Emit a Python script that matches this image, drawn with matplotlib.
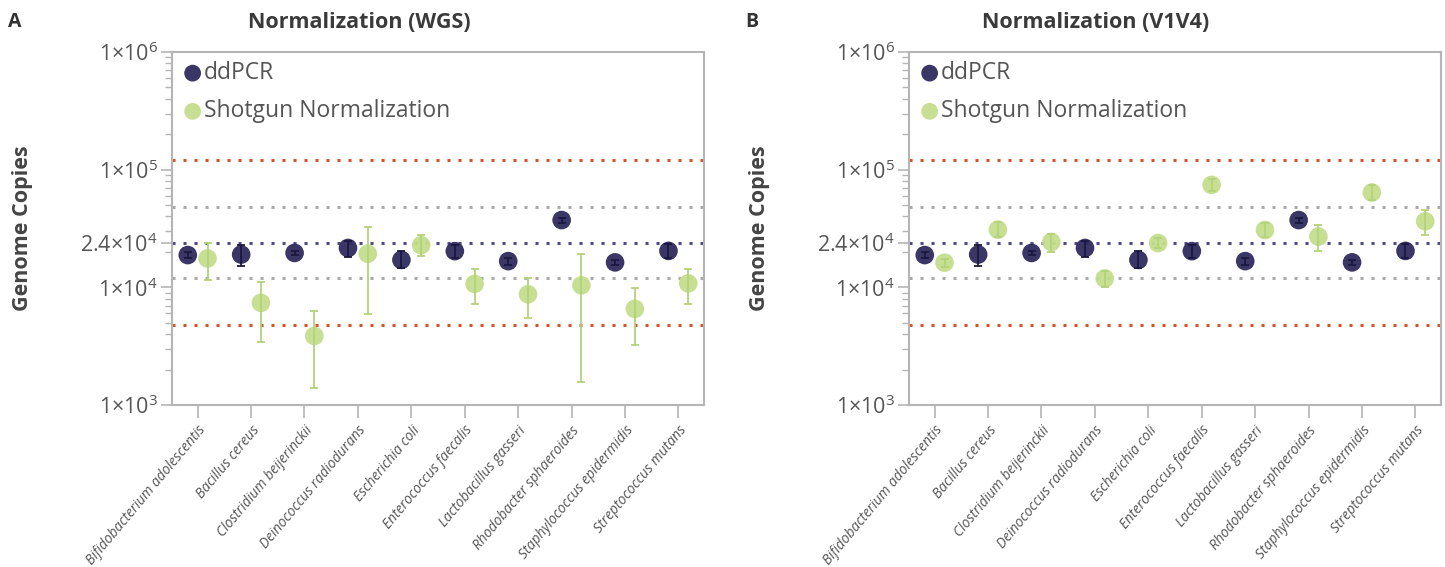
import numpy as np
import matplotlib
matplotlib.use("Agg")
import matplotlib.pyplot as plt
from matplotlib.ticker import FixedLocator, LogLocator, NullFormatter

plt.rcParams['font.family'] = ['Open Sans', 'DejaVu Sans']
plt.rcParams['mathtext.fontset'] = 'custom'
plt.rcParams['mathtext.rm'] = 'Open Sans'

species = ["Bifidobacterium adolescentis", "Bacillus cereus", "Clostridium beijerinckii",
           "Deinococcus radiodurans", "Escherichia coli", "Enterococcus faecalis",
           "Lactobacillus gasseri", "Rhodobacter sphaeroides", "Staphylococcus epidermidis",
           "Streptococcus mutans"]

# ddPCR (same in both panels): mean, lower, upper
ddpcr = [1.88e4, 1.90e4, 1.96e4, 2.16e4, 1.71e4, 2.03e4, 1.67e4, 3.73e4, 1.63e4, 2.04e4]
ddpcr_lo = [1.77e4, 1.51e4, 1.90e4, 1.82e4, 1.45e4, 1.78e4, 1.56e4, 3.55e4, 1.55e4, 1.78e4]
ddpcr_hi = [2.00e4, 2.28e4, 2.03e4, 2.46e4, 2.03e4, 2.31e4, 1.78e4, 3.92e4, 1.71e4, 2.34e4]

# Shotgun normalization, WGS
wgs = [1.76e4, 7.38e3, 3.86e3, 1.93e4, 2.28e4, 1.07e4, 8.73e3, 1.04e4, 6.56e3, 1.08e4]
wgs_lo = [1.15e4, 3.45e3, 1.40e3, 5.91e3, 1.85e4, 7.28e3, 5.51e3, 1.57e3, 3.26e3, 7.28e3]
wgs_hi = [2.37e4, 1.12e4, 6.35e3, 3.28e4, 2.77e4, 1.42e4, 1.21e4, 1.93e4, 9.82e3, 1.42e4]

# Shotgun normalization, V1V4
v1v4 = [1.62e4, 3.09e4, 2.43e4, 1.19e4, 2.38e4, 7.43e4, 3.07e4, 2.70e4, 6.40e4, 3.64e4]
v1v4_lo = [1.49e4, 2.66e4, 1.99e4, 1.01e4, 2.16e4, 6.61e4, 2.66e4, 2.03e4, 5.47e4, 2.81e4]
v1v4_hi = [1.73e4, 3.59e4, 2.86e4, 1.39e4, 2.63e4, 8.34e4, 3.50e4, 3.36e4, 7.43e4, 4.53e4]

expected = 2.4e4
ytick_vals = [1e3, 1e4, 2.4e4, 1e5, 1e6]
ytick_labels = [r"$\mathregular{1{\times}10^{3}}$", r"$\mathregular{1{\times}10^{4}}$",
                r"$\mathregular{2.4{\times}10^{4}}$", r"$\mathregular{1{\times}10^{5}}$",
                r"$\mathregular{1{\times}10^{6}}$"]

NAVY = "#2f2b5e"
NAVY_BAR = "#1b1840"
GREEN = "#c3de8c"
GREEN_BAR = "#b3d27a"
RED = "#d2552a"
GRAY = "#aaaaaa"
BLUE_LINE = "#4d4a85"
SPINE = "#b5b5b5"
TXT = "#555555"

fig = plt.figure(figsize=(14.45, 5.67), dpi=100)
ax1 = fig.add_axes([172 / 1445, 1 - 405 / 567, 532 / 1445, 353 / 567])
ax2 = fig.add_axes([909 / 1445, 1 - 405 / 567, 532 / 1445, 353 / 567])

x = np.arange(len(species))
off = 0.185


def draw(ax, sg, sg_lo, sg_hi):
    for yv, c in [(expected * 5, RED), (expected * 2, GRAY), (expected, BLUE_LINE),
                  (expected / 2, GRAY), (expected / 5, RED)]:
        ax.axhline(yv, color=c, lw=2.2, ls=(0, (1, 2.6)), zorder=1)

    d = np.array(ddpcr)
    s = np.array(sg)
    ax.scatter(x - off, d, s=180, color=NAVY, alpha=0.95, zorder=3, edgecolors='none', label="ddPCR")
    ax.errorbar(x - off, d, yerr=[d - np.array(ddpcr_lo), np.array(ddpcr_hi) - d], fmt='none',
                ecolor=NAVY_BAR, elinewidth=1.3, capsize=3, capthick=1.3, zorder=4)
    ax.scatter(x + off, s, s=180, color=GREEN, alpha=0.95, zorder=3, edgecolors='none',
               label="Shotgun Normalization")
    ax.errorbar(x + off, s, yerr=[s - np.array(sg_lo), np.array(sg_hi) - s], fmt='none',
                ecolor=GREEN_BAR, elinewidth=1.3, capsize=3, capthick=1.3, zorder=4)

    ax.set_yscale('log')
    ax.set_ylim(1e3, 1e6)
    ax.set_xlim(-0.48, 9.48)
    ax.yaxis.set_major_locator(FixedLocator(ytick_vals))
    ax.set_yticklabels(ytick_labels, fontsize=15.5, color=TXT)
    ax.yaxis.set_minor_locator(LogLocator(base=10, subs=np.arange(2, 10)))
    ax.yaxis.set_minor_formatter(NullFormatter())
    ax.set_xticks(x)
    ax.set_xticklabels(species, rotation=50, ha='right', rotation_mode='anchor',
                       fontsize=10, style='italic', color=TXT)
    ax.tick_params(axis='x', length=9, width=1.2, color=SPINE, pad=4)
    ax.tick_params(axis='y', which='major', length=8, width=1.2, color=SPINE, pad=2)
    ax.tick_params(axis='y', which='minor', length=5, width=1, color=SPINE)
    for sp in ax.spines.values():
        sp.set_color(SPINE)
        sp.set_linewidth(1.5)

    leg = ax.legend(loc='upper left', frameon=False, fontsize=16.5, handletextpad=0.0,
                    labelspacing=0.62, borderaxespad=0.15, handlelength=1.0, borderpad=0.25,
                    markerscale=0.9)
    for t in leg.get_texts():
        t.set_color(TXT)
    ax.set_ylabel("Genome Copies", fontsize=15.5, fontweight='bold', color="#444444", labelpad=34)


draw(ax1, wgs, wgs_lo, wgs_hi)
draw(ax2, v1v4, v1v4_lo, v1v4_hi)

fig.text(8 / 1445, 1 - 22 / 567, "A", fontsize=14, fontweight='bold', color="#333333", va='center')
fig.text(745 / 1445, 1 - 22 / 567, "B", fontsize=14, fontweight='bold', color="#333333", va='center')
fig.text(359 / 1445, 1 - 22 / 567, "Normalization (WGS)", fontsize=15.5, fontweight='bold',
         color="#3a3a3a", ha='center', va='center')
fig.text(1096 / 1445, 1 - 22 / 567, "Normalization (V1V4)", fontsize=15.5, fontweight='bold',
         color="#3a3a3a", ha='center', va='center')

fig.savefig("out.png", dpi=100)
